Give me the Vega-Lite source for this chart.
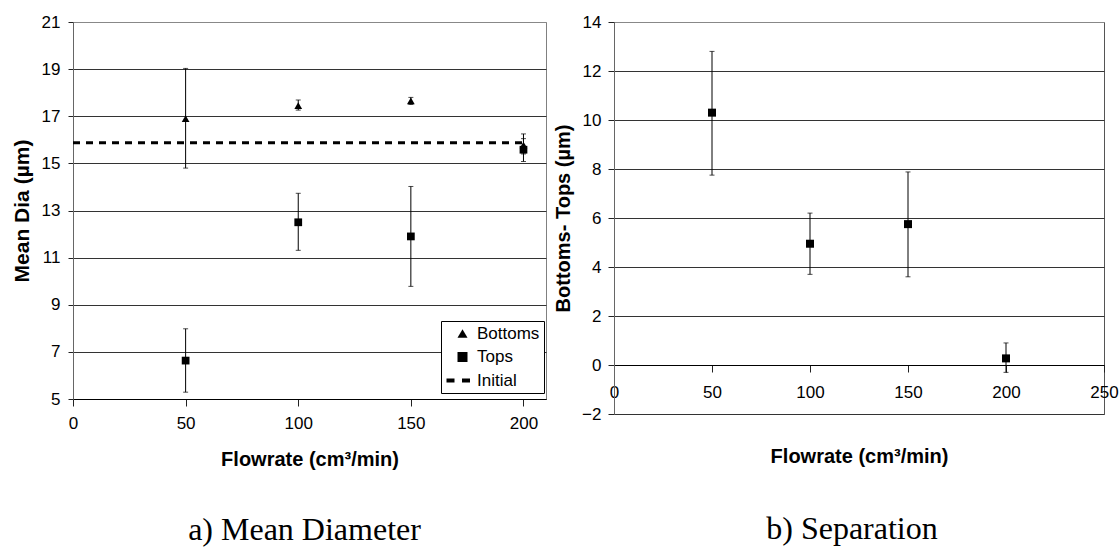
{
  "$schema": "https://vega.github.io/schema/vega-lite/v6.json",
  "padding": {"left": 10, "top": 12, "right": 0, "bottom": 0},
  "spacing": 6,
  "background": "white",
  "config": {
    "font": "Liberation Sans",
    "view": {"stroke": "#808080"},
    "axis": {
      "labelFont": "Liberation Sans",
      "labelFontSize": 17,
      "labelColor": "black",
      "titleFont": "Liberation Sans",
      "titleFontWeight": "bold",
      "titleColor": "black",
      "tickColor": "#222",
      "domainColor": "#666",
      "gridColor": "#333",
      "gridOpacity": 1,
      "labelFlush": false,
      "labelOverlap": false
    }
  },
  "datasets": {
    "diam": [
      {"series": "Bottoms", "flow": 50, "mean": 16.9, "lo": 14.8, "hi": 19.03},
      {"series": "Bottoms", "flow": 100, "mean": 17.45, "lo": 17.26, "hi": 17.69},
      {"series": "Bottoms", "flow": 150, "mean": 17.65, "lo": 17.5, "hi": 17.8},
      {"series": "Bottoms", "flow": 200, "mean": 15.78, "lo": 15.4, "hi": 16.25},
      {"series": "Tops", "flow": 50, "mean": 6.63, "lo": 5.29, "hi": 7.98},
      {"series": "Tops", "flow": 100, "mean": 12.5, "lo": 11.31, "hi": 13.73},
      {"series": "Tops", "flow": 150, "mean": 11.9, "lo": 9.78, "hi": 14.02},
      {"series": "Tops", "flow": 200, "mean": 15.58, "lo": 15.08, "hi": 16.05}
    ],
    "initial": [
      {"series": "Initial", "x0": 0, "x1": 200, "value": 15.88}
    ],
    "sep": [
      {"flow": 50, "diff": 10.3, "lo": 7.75, "hi": 12.8},
      {"flow": 100, "diff": 4.95, "lo": 3.7, "hi": 6.2},
      {"flow": 150, "diff": 5.75, "lo": 3.6, "hi": 7.88},
      {"flow": 200, "diff": 0.27, "lo": -0.3, "hi": 0.9}
    ]
  },
  "hconcat": [
    {
      "width": 473,
      "height": 377,
      "title": {"text": "a) Mean Diameter", "orient": "bottom", "font": "Liberation Serif", "fontSize": 32, "fontWeight": "normal", "color": "black", "offset": 46, "anchor": "middle", "dx": -5},
      "layer": [
        {
          "data": {"name": "diam"},
          "mark": {"type": "errorbar", "ticks": {"size": 5, "color": "black"}, "color": "black", "thickness": 1},
          "encoding": {
            "x": {"field": "flow", "type": "quantitative", "scale": {"domain": [0, 210], "nice": false},
              "axis": {"values": [0, 50, 100, 150, 200], "title": "Flowrate (cm³/min)", "titleFontSize": 20, "titlePadding": 18, "labelPadding": 9, "tickSize": 7, "grid": false, "domainColor": "black"}},
            "y": {"field": "lo", "type": "quantitative", "scale": {"domain": [5, 21], "nice": false},
              "axis": {"values": [5, 7, 9, 11, 13, 15, 17, 19, 21], "title": "Mean Dia (µm)", "titleFontSize": 21, "titlePadding": 9, "labelPadding": 8, "tickSize": 5, "grid": true,
                "gridColor": {"condition": {"test": "datum.value === 21", "value": "#888"}, "value": "#333"}}},
            "y2": {"field": "hi"}
          }
        },
        {
          "data": {"name": "initial"},
          "mark": {"type": "rule", "strokeDash": [7, 6], "strokeWidth": 3, "color": "black"},
          "encoding": {
            "x": {"field": "x0", "type": "quantitative"},
            "x2": {"field": "x1"},
            "y": {"field": "value", "type": "quantitative"}
          }
        },
        {
          "data": {"name": "diam"},
          "mark": {"type": "point", "filled": true, "color": "black", "opacity": 1, "size": 60},
          "encoding": {
            "x": {"field": "flow", "type": "quantitative"},
            "y": {"field": "mean", "type": "quantitative"},
            "shape": {"field": "series", "type": "nominal",
              "scale": {"domain": ["Bottoms", "Tops", "Initial"], "range": ["triangle-up", "square", "M-3.2,-0.39H-1.6V0.39H-3.2ZM-0.1,-0.39H1.5V0.39H-0.1Z"]},
              "legend": {"title": null, "orient": "none", "legendX": 368, "legendY": 299, "fillColor": "white", "strokeColor": "black", "padding": 4, "rowPadding": 5.5, "symbolOffset": 9, "symbolFillColor": "black", "symbolStrokeWidth": 0, "symbolOpacity": 1, "labelFont": "Liberation Sans", "labelFontSize": 17, "labelColor": "black", "labelOffset": 6}
            }
          }
        }
      ]
    },
    {
      "width": 490,
      "height": 392,
      "view": {"stroke": "#555"},
      "data": {"name": "sep"},
      "title": {"text": "b) Separation", "orient": "bottom", "font": "Liberation Serif", "fontSize": 32, "fontWeight": "normal", "color": "black", "offset": 48, "anchor": "middle", "dx": -7},
      "layer": [
        {
          "mark": {"type": "errorbar", "ticks": {"size": 5, "color": "black"}, "color": "black", "thickness": 1},
          "encoding": {
            "x": {"field": "flow", "type": "quantitative", "scale": {"domain": [0, 250], "nice": false},
              "axis": {"values": [0, 50, 100, 150, 200, 250], "offset": -49, "title": "Flowrate (cm³/min)", "titleFontSize": 20, "titlePadding": 46, "labelPadding": 12, "tickSize": 7, "grid": false, "domainColor": "black"}},
            "y": {"field": "lo", "type": "quantitative", "scale": {"domain": [-2, 14], "nice": false},
              "axis": {"values": [-2, 0, 2, 4, 6, 8, 10, 12, 14], "title": "Bottoms- Tops (µm)", "titleFontSize": 20, "titlePadding": 8, "labelPadding": 7, "tickSize": 6, "grid": true,
                "gridColor": {"condition": {"test": "datum.value === 14", "value": "#888"}, "value": "#333"}}},
            "y2": {"field": "hi"}
          }
        },
        {
          "mark": {"type": "point", "shape": "square", "filled": true, "color": "black", "opacity": 1, "size": 64},
          "encoding": {
            "x": {"field": "flow", "type": "quantitative"},
            "y": {"field": "diff", "type": "quantitative"}
          }
        }
      ]
    }
  ]
}
